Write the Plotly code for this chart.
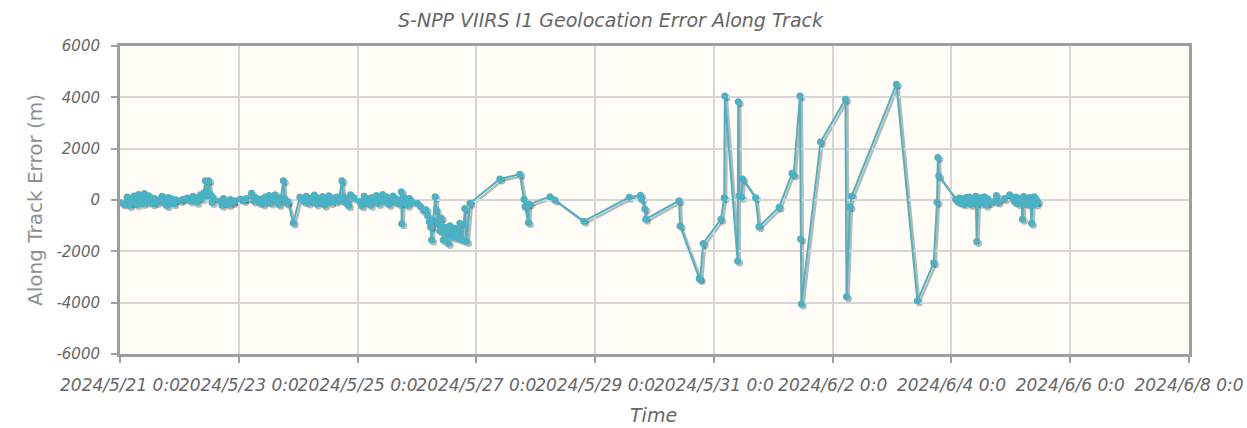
import plotly.graph_objects as go

# ---- data -----------------------------------------------------------------
times = [
    # 21 May
    "2024-05-21 00:10", "2024-05-21 01:30", "2024-05-21 02:50", "2024-05-21 03:20",
    "2024-05-21 03:50", "2024-05-21 04:30", "2024-05-21 05:10", "2024-05-21 05:40",
    "2024-05-21 06:20", "2024-05-21 06:50", "2024-05-21 07:30", "2024-05-21 08:00",
    "2024-05-21 08:40", "2024-05-21 09:10", "2024-05-21 09:50", "2024-05-21 10:20",
    "2024-05-21 10:50", "2024-05-21 11:30", "2024-05-21 12:00", "2024-05-21 12:40",
    "2024-05-21 13:10", "2024-05-21 14:00", "2024-05-21 14:40", "2024-05-21 16:20",
    "2024-05-21 17:00", "2024-05-21 17:40", "2024-05-21 18:20", "2024-05-21 19:00",
    "2024-05-21 19:40", "2024-05-21 20:20", "2024-05-21 21:00", "2024-05-21 21:40",
    "2024-05-21 22:30",
    # 22 May
    "2024-05-22 00:20", "2024-05-22 01:30", "2024-05-22 03:10", "2024-05-22 04:20",
    "2024-05-22 05:30", "2024-05-22 06:20", "2024-05-22 07:00", "2024-05-22 07:50",
    "2024-05-22 08:30", "2024-05-22 09:10", "2024-05-22 09:50", "2024-05-22 10:30",
    "2024-05-22 10:50", "2024-05-22 11:20", "2024-05-22 11:50", "2024-05-22 12:30",
    "2024-05-22 13:10", "2024-05-22 13:40", "2024-05-22 16:30", "2024-05-22 17:10",
    "2024-05-22 17:50", "2024-05-22 18:30", "2024-05-22 19:20", "2024-05-22 20:00",
    "2024-05-22 20:40", "2024-05-22 21:30", "2024-05-22 22:30",
    # 23 May
    "2024-05-23 00:40", "2024-05-23 02:00", "2024-05-23 03:00", "2024-05-23 05:10",
    "2024-05-23 06:00", "2024-05-23 07:00", "2024-05-23 08:10", "2024-05-23 09:00",
    "2024-05-23 09:50", "2024-05-23 10:40", "2024-05-23 11:30", "2024-05-23 12:10",
    "2024-05-23 13:00", "2024-05-23 13:50", "2024-05-23 14:40", "2024-05-23 15:20",
    "2024-05-23 16:10", "2024-05-23 17:00", "2024-05-23 18:00", "2024-05-23 18:30",
    "2024-05-23 19:10", "2024-05-23 19:50", "2024-05-23 22:00",
    # 24 May
    "2024-05-24 00:40", "2024-05-24 01:30", "2024-05-24 02:20", "2024-05-24 03:10",
    "2024-05-24 04:00", "2024-05-24 04:50", "2024-05-24 05:40", "2024-05-24 06:30",
    "2024-05-24 07:20", "2024-05-24 08:10", "2024-05-24 09:00", "2024-05-24 09:50",
    "2024-05-24 10:40", "2024-05-24 11:30", "2024-05-24 12:20", "2024-05-24 13:10",
    "2024-05-24 14:00", "2024-05-24 14:50", "2024-05-24 15:40", "2024-05-24 16:30",
    "2024-05-24 17:40", "2024-05-24 18:10", "2024-05-24 18:50", "2024-05-24 19:30",
    "2024-05-24 20:20", "2024-05-24 21:10", "2024-05-24 22:30",
    # 25 May
    "2024-05-25 00:50", "2024-05-25 01:40", "2024-05-25 02:40", "2024-05-25 03:30",
    "2024-05-25 04:20", "2024-05-25 05:10", "2024-05-25 06:00", "2024-05-25 06:50",
    "2024-05-25 07:40", "2024-05-25 08:30", "2024-05-25 09:20", "2024-05-25 10:10",
    "2024-05-25 11:00", "2024-05-25 11:50", "2024-05-25 12:40", "2024-05-25 13:30",
    "2024-05-25 14:20", "2024-05-25 15:10", "2024-05-25 16:00", "2024-05-25 16:50",
    "2024-05-25 17:40", "2024-05-25 17:50", "2024-05-25 18:10", "2024-05-25 18:50",
    "2024-05-25 19:30", "2024-05-25 20:10", "2024-05-25 21:00", "2024-05-25 22:00",
    # 26 May
    "2024-05-26 00:10", "2024-05-26 01:30", "2024-05-26 02:40", "2024-05-26 03:40",
    "2024-05-26 04:20", "2024-05-26 05:00", "2024-05-26 05:30", "2024-05-26 05:55",
    "2024-05-26 06:30", "2024-05-26 07:20", "2024-05-26 07:50", "2024-05-26 08:30",
    "2024-05-26 09:10", "2024-05-26 09:50", "2024-05-26 10:35", "2024-05-26 11:10",
    "2024-05-26 11:50", "2024-05-26 12:40", "2024-05-26 13:20", "2024-05-26 14:00",
    "2024-05-26 14:40", "2024-05-26 15:20", "2024-05-26 16:00", "2024-05-26 16:40",
    "2024-05-26 17:20", "2024-05-26 18:25", "2024-05-26 19:20", "2024-05-26 20:05",
    "2024-05-26 21:25",
    # 27 May - 3 June
    "2024-05-27 09:30", "2024-05-27 17:35", "2024-05-27 19:15", "2024-05-27 19:40",
    "2024-05-27 21:00", "2024-05-27 21:20", "2024-05-28 05:45", "2024-05-28 07:45",
    "2024-05-28 19:25", "2024-05-29 13:45", "2024-05-29 18:20", "2024-05-29 18:45",
    "2024-05-29 20:05", "2024-05-29 20:25", "2024-05-30 09:55", "2024-05-30 10:20",
    "2024-05-30 18:05", "2024-05-30 18:25", "2024-05-30 19:40", "2024-05-31 02:50",
    "2024-05-31 04:10", "2024-05-31 04:25", "2024-05-31 09:35", "2024-05-31 09:50",
    "2024-05-31 10:10", "2024-05-31 11:10", "2024-05-31 11:35", "2024-05-31 16:50",
    "2024-05-31 18:10", "2024-06-01 02:20", "2024-06-01 07:35", "2024-06-01 08:15",
    "2024-06-01 10:45", "2024-06-01 11:00", "2024-06-01 11:20", "2024-06-01 19:05",
    "2024-06-02 05:10", "2024-06-02 05:35", "2024-06-02 07:00", "2024-06-02 07:40",
    "2024-06-03 01:45", "2024-06-03 10:15", "2024-06-03 16:50", "2024-06-03 18:10",
    "2024-06-03 18:30", "2024-06-03 18:50",
    # 4 June
    "2024-06-04 01:40", "2024-06-04 02:30", "2024-06-04 03:10", "2024-06-04 03:50",
    "2024-06-04 04:30", "2024-06-04 05:10", "2024-06-04 05:50", "2024-06-04 06:30",
    "2024-06-04 07:10", "2024-06-04 07:50", "2024-06-04 08:30", "2024-06-04 09:10",
    "2024-06-04 09:50", "2024-06-04 10:10", "2024-06-04 10:40", "2024-06-04 11:20",
    "2024-06-04 12:00", "2024-06-04 12:40", "2024-06-04 13:20", "2024-06-04 14:00",
    "2024-06-04 14:40", "2024-06-04 15:20", "2024-06-04 17:30", "2024-06-04 18:10",
    "2024-06-04 18:50", "2024-06-04 21:30", "2024-06-04 23:30",
    # 5 June
    "2024-06-05 00:50", "2024-06-05 01:30", "2024-06-05 02:10", "2024-06-05 02:50",
    "2024-06-05 03:30", "2024-06-05 04:10", "2024-06-05 04:40", "2024-06-05 05:10",
    "2024-06-05 05:50", "2024-06-05 06:30", "2024-06-05 07:10", "2024-06-05 07:50",
    "2024-06-05 08:20", "2024-06-05 08:50", "2024-06-05 09:30", "2024-06-05 10:10",
    "2024-06-05 10:50",
]

along_track_error = [
    # 21 May
    -110, -160, 120, -40, -210, 80, -120, 160, 20, -180, 210, -60, 110, -140, 250, 40,
    -90, 170, -30, 90, -150, 60, -100, 30, 150, -120, 80, -220, 100, -60, 40, -150, 10,
    # 22 May
    -20, 30, 80, -40, 150, 20, -90, 120, 200, 60, 280, 750, 350, 150, 750, 220, -100, 80,
    -40, -200, 60, -120, -60, -180, 20, -100, -30,
    # 23 May
    40, -20, 60, 260, -40, 80, -100, 40, -160, 120, -60, 180, -120, 60, 200, -40, -180,
    100, 750, 50, -120, -60, -900,
    # 24 May
    120, 40, -60, 150, -120, 80, -20, 190, -160, 60, -80, 140, -200, 30, 170, -100, 80,
    -50, 120, 0, 750, 150, -80, 60, -220, 200, 90,
    # 25 May
    -60, -230, 150, -90, 60, -200, 100, -40, 180, -140, 80, 210, -60, 120, -180, 40, 160,
    -80, 20, -150, 320, -930, -120, 100, -60, -200, 60, -80,
    # 26 May
    -130, -260, -420, -380, -620, -850, -1050, -1560, -780, 130, -390, -950, -1200, -700,
    -1560, -1050, -1300, -1690, -1000, -1250, -1450, -1100, -1240, -1500, -910, -1560,
    -330, -1620, -130,
    # 27 May - 3 June
    820, 1000, 30, -260, -880, -160, 130, 0, -830, 105, 185, 30, -350, -750, -30, -1010,
    -3050, -3100, -1690, -750, 90, 4050, -2380, 3830, 170, 105, 820, 90, -1040, -285,
    1040, 975, 4050, -1520, -4050, 2260, 3930, -3770, -260, 155, 4510, -3930, -2440, -90,
    1660, 935,
    # 4 June
    30, -60, 80, -120, 40, -150, 100, -40, 120, -180, 60, -90, 150, -1620, 20, -130, 90,
    -60, 130, -200, 50, -100, -50, 180, -80, 60, 200,
    # 5 June
    40, -80, 120, -140, 60, -40, -750, 140, -120, 80, -180, 100, -910, -20, 130, -160, -60,
]

x_tick_dates = ["2024-05-21", "2024-05-23", "2024-05-25", "2024-05-27", "2024-05-29",
                "2024-05-31", "2024-06-02", "2024-06-04", "2024-06-06", "2024-06-08"]
x_tick_labels = ["2024/5/21 0:0", "2024/5/23 0:0", "2024/5/25 0:0", "2024/5/27 0:0",
                 "2024/5/29 0:0", "2024/5/31 0:0", "2024/6/2 0:0", "2024/6/4 0:0",
                 "2024/6/6 0:0", "2024/6/8 0:0"]
y_tick_values = [6000, 4000, 2000, 0, -2000, -4000, -6000]
y_tick_labels = ["6000", "4000", "2000", "0", "-2000", "-4000", "-6000"]

# ---- styling --------------------------------------------------------------
SERIES = "#4bb2c5"
TEXT = "#666666"
GRID = "#d6d6d6"
BORDER = "#9e9e9e"
BG = "#fffdf6"

W, H = 1247, 428
L, R, T, B = 120, 56, 46, 72
PW = W - L - R          # paper width in px
PH = H - T - B          # paper height in px
OFF = 2                 # drop-shadow offset in px

x_range = ["2024-05-21 00:00", "2024-06-08 00:00"]
y_range = [-6000, 6000]

fig = go.Figure()

# drop shadow of the series, drawn on an axis pair nudged right and down
fig.add_trace(go.Scatter(
    x=times, y=along_track_error, xaxis="x", yaxis="y",
    mode="lines+markers",
    line=dict(color="rgba(0,0,0,0.27)", width=2.5),
    marker=dict(color="rgba(0,0,0,0.27)", size=7),
    hoverinfo="skip", showlegend=False,
))

# the series itself
fig.add_trace(go.Scatter(
    x=times, y=along_track_error, xaxis="x2", yaxis="y2",
    mode="lines+markers",
    line=dict(color=SERIES, width=2),
    marker=dict(color=SERIES, size=7),
    showlegend=False,
))

tick_font_x = dict(family="DejaVu Sans", size=17, color=TEXT, style="italic")
tick_font_y = dict(family="DejaVu Sans", size=15, color=TEXT, style="italic")

fig.update_layout(
    width=W, height=H,
    margin=dict(l=L, r=R, t=T, b=B, pad=0, autoexpand=False),
    paper_bgcolor="white",
    plot_bgcolor="rgba(0,0,0,0)",
    showlegend=False,
    xaxis=dict(domain=[OFF / PW, 1], range=x_range, type="date",
               visible=False, anchor="y", automargin=False),
    yaxis=dict(domain=[0, 1 - OFF / PH], range=y_range,
               visible=False, anchor="x", automargin=False),
    xaxis2=dict(domain=[0, 1 - OFF / PW], range=x_range, type="date", anchor="y2",
                automargin=False, tickangle=0,
                tickmode="array", tickvals=x_tick_dates, ticktext=x_tick_labels,
                showgrid=True, gridcolor=GRID, gridwidth=1.5,
                ticks="outside", ticklen=6, tickwidth=2, tickcolor=BORDER,
                ticklabelstandoff=8, tickfont=tick_font_x,
                showline=True, linecolor=BORDER, linewidth=3, mirror=True,
                zeroline=False),
    yaxis2=dict(domain=[OFF / PH, 1], range=y_range, anchor="x2",
                automargin=False,
                tickmode="array", tickvals=y_tick_values, ticktext=y_tick_labels,
                showgrid=True, gridcolor=GRID, gridwidth=1.5,
                ticks="outside", ticklen=6, tickwidth=2, tickcolor=BORDER,
                ticklabelstandoff=8, tickfont=tick_font_y,
                showline=True, linecolor=BORDER, linewidth=3, mirror=True,
                zeroline=False),
    shapes=[dict(type="rect", xref="paper", yref="paper", layer="below",
                 x0=0, x1=1 - OFF / PW, y0=OFF / PH, y1=1,
                 fillcolor=BG, line=dict(width=0))],
    annotations=[
        dict(text="S-NPP VIIRS I1 Geolocation Error Along Track",
             xref="paper", yref="paper", x=(611 - L) / PW, y=(H - B - 20) / PH,
             xanchor="center", yanchor="middle", showarrow=False,
             font=dict(family="DejaVu Sans", size=19, color=TEXT, style="italic")),
        dict(text="Along Track Error (m)",
             xref="paper", yref="paper", x=(35 - L) / PW, y=(H - B - 200) / PH,
             xanchor="center", yanchor="middle", showarrow=False, textangle=-90,
             font=dict(family="DejaVu Sans", size=20, color="#8f8f8f")),
        dict(text="Time",
             xref="paper", yref="paper", x=(653 - L) / PW, y=(H - B - 415) / PH,
             xanchor="center", yanchor="middle", showarrow=False,
             font=dict(family="DejaVu Sans", size=19, color=TEXT, style="italic")),
    ],
)

fig.write_html("out.html")
